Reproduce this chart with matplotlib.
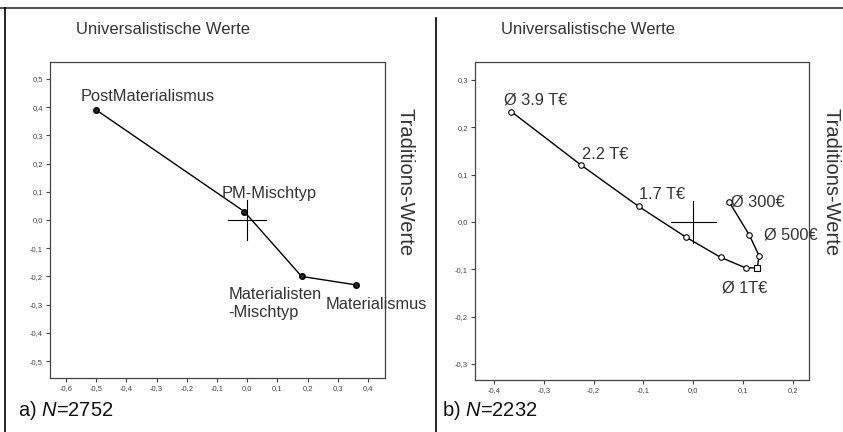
import matplotlib
matplotlib.use("Agg")
import matplotlib.pyplot as plt
from matplotlib.lines import Line2D
from matplotlib.ticker import FuncFormatter

plt.rcParams['font.family'] = ['Liberation Sans', 'DejaVu Sans']
plt.rcParams['mathtext.fontset'] = 'custom'
plt.rcParams['mathtext.it'] = 'Liberation Sans:italic'
plt.rcParams['mathtext.rm'] = 'Liberation Sans'

# panel a
a_x = [-0.50, -0.01, 0.18, 0.36]
a_y = [0.39, 0.03, -0.20, -0.23]
a_labels = ["PostMaterialismus", "PM-Mischtyp", "Materialisten\n-Mischtyp", "Materialismus"]
a_label_pos = [(-0.55, 0.438), (-0.086, 0.095), (-0.063, -0.295), (0.258, -0.30)]
a_xticks = [-0.6, -0.5, -0.4, -0.3, -0.2, -0.1, 0.0, 0.1, 0.2, 0.3, 0.4]
a_yticks = [-0.5, -0.4, -0.3, -0.2, -0.1, 0.0, 0.1, 0.2, 0.3, 0.4, 0.5]

# panel b
b_x = [-0.365, -0.225, -0.11, -0.015, 0.055, 0.105, 0.128, 0.132, 0.112, 0.072]
b_y = [0.233, 0.12, 0.033, -0.032, -0.075, -0.097, -0.097, -0.072, -0.027, 0.042]
b_marker = ['o', 'o', 'o', 'o', 'o', 'o', 's', 'o', 'o', 'o']
b_labels = ["Ø 3.9 T€", "2.2 T€", "1.7 T€", "Ø 300€", "Ø 500€", "Ø 1T€"]
b_label_pos = [(-0.38, 0.257), (-0.224, 0.143), (-0.11, 0.057), (0.076, 0.042), (0.142, -0.027), (0.058, -0.139)]
b_xticks = [-0.4, -0.3, -0.2, -0.1, 0.0, 0.1, 0.2]
b_yticks = [-0.3, -0.2, -0.1, 0.0, 0.1, 0.2, 0.3]

txt = '#333333'
comma = FuncFormatter(lambda v, p: f"{v:.1f}".replace('.', ',').replace('-0,0', '0,0'))

fig = plt.figure(figsize=(8.43, 4.32), dpi=100)
fig.patch.set_facecolor('white')

ax1 = fig.add_axes([50/843, 1-378/432, 335/843, 316/432])
ax2 = fig.add_axes([475/843, 1-380/432, 334/843, 318/432])


def style(ax, xt, yt):
    ax.set_xticks(xt)
    ax.set_yticks(yt)
    ax.xaxis.set_major_formatter(comma)
    ax.yaxis.set_major_formatter(comma)
    ax.tick_params(labelsize=5.5, colors='#444444', length=3, width=0.8, pad=2)
    for s in ax.spines.values():
        s.set_color('#444444')
        s.set_linewidth(0.9)


style(ax1, a_xticks, a_yticks)
ax1.set_xlim(-0.653, 0.456)
ax1.set_ylim(-0.56, 0.56)
ax1.plot(a_x, a_y, color='black', lw=1.0, marker='o', ms=4, mfc='#222222', mec='black')
ax1.plot([-0.063, 0.063], [0, 0], color='black', lw=0.8)
ax1.plot([0, 0], [-0.07, 0.07], color='black', lw=0.8)
for lab, (x, y) in zip(a_labels, a_label_pos):
    ax1.text(x, y, lab, fontsize=11.8, color=txt, va='center', ha='left',
             clip_on=False, linespacing=1.25)

style(ax2, b_xticks, b_yticks)
ax2.set_xlim(-0.438, 0.232)
ax2.set_ylim(-0.334, 0.338)
ax2.plot(b_x, b_y, color='black', lw=1.0)
for x, y, m in zip(b_x, b_y, b_marker):
    ax2.plot([x], [y], marker=m, ms=4, mfc='white', mec='black', mew=0.8)
ax2.plot([-0.045, 0.045], [0, 0], color='black', lw=0.8)
ax2.plot([0, 0], [-0.045, 0.045], color='black', lw=0.8)
for lab, (x, y) in zip(b_labels, b_label_pos):
    ax2.text(x, y, lab, fontsize=11.8, color=txt, va='center', ha='left', clip_on=False)

# titles and side labels
for cx, rx in [(163, 405), (588, 831)]:
    fig.text(cx/843, 1-30/432, "Universalistische Werte", fontsize=12,
             color=txt, ha='center', va='center')
    fig.text(rx/843, 1-182/432, "Traditions-Werte", fontsize=14.5,
             color=txt, ha='center', va='center', rotation=-90)

fig.text(18/843, 1-411/432, "a) $N$=2752", fontsize=14.5, color='#111111', ha='left', va='center')
fig.text(442/843, 1-411/432, "b) $N$=2232", fontsize=14.5, color='#111111', ha='left', va='center')

# frame lines
fig.add_artist(Line2D([0, 1], [1-7.5/432, 1-7.5/432], color='#555555', lw=1.5))
fig.add_artist(Line2D([5/843, 5/843], [0, 1-8/432], color='black', lw=1.2))
fig.add_artist(Line2D([436/843, 436/843], [0, 1-18/432], color='black', lw=1.2))

fig.savefig('out.png', dpi=100)
